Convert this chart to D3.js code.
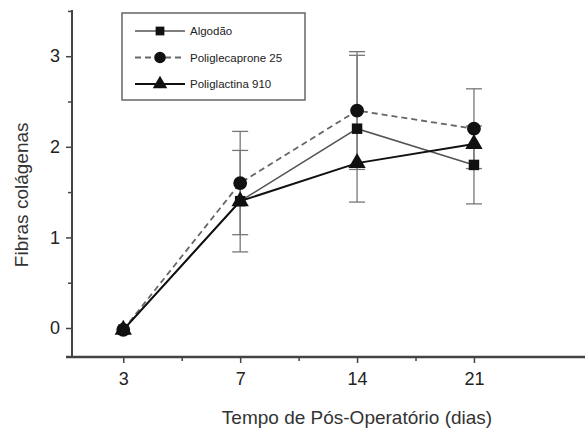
<!DOCTYPE html>
<html>
<head>
<meta charset="utf-8">
<script src="https://cdn.jsdelivr.net/npm/d3@7"></script>
<style>
  body { margin: 0; background: #fff; }
  svg { display: block; font-family: "Liberation Sans", Arial, sans-serif; }
</style>
</head>
<body>
<svg id="chart" width="585" height="432"></svg>
<script>
// x categories (days after surgery)
const days = ["3", "7", "14", "21"];
const seriesNames = ["Algodão", "Poliglecaprone 25", "Poliglactina 910"];
// mean scores per series, same order as days
const algodao = [-0.02, 1.40, 2.20, 1.80];
const poliglecaprone = [-0.02, 1.60, 2.40, 2.20];
const poliglactina = [-0.02, 1.40, 1.82, 2.03];
// error bar half-widths (null = none drawn)
const algodaoErr = [null, 0.56, 0.81, 0.43];
const poliglecaproneErr = [null, 0.57, 0.65, 0.44];
const yTicks = [0, 1, 2, 3];

const svg = d3.select("#chart");

// x drawn on index positions so the minor ticks fall between the days
const x = d3.scaleLinear().domain([-0.49, 3.95]).range([66, 585]);
const y = d3.scaleLinear().domain([-0.32, 3.51]).range([357, 10]);

const axisColor = "#444";

// y axis
const yAxis = svg.append("g")
    .attr("transform", "translate(72,0)")
    .call(d3.axisLeft(y).tickValues(yTicks).tickSize(6).tickPadding(6).tickFormat(d3.format("d")));
yAxis.select(".domain").remove();
yAxis.selectAll("line").attr("stroke", axisColor).attr("stroke-width", 1.5);
yAxis.selectAll("text").attr("font-size", 18).attr("fill", "#222").attr("font-family", "Liberation Sans, Arial, sans-serif");
svg.append("g")
    .attr("transform", "translate(72,0)")
    .call(d3.axisLeft(y).tickValues([0.5, 1.5, 2.5, 3.5]).tickSize(4).tickFormat(""))
    .call(g => g.select(".domain").remove())
    .selectAll("line").attr("stroke", axisColor).attr("stroke-width", 1.5);
svg.append("line")
    .attr("x1", 72).attr("x2", 72).attr("y1", y(3.51)).attr("y2", y(-0.32))
    .attr("stroke", axisColor).attr("stroke-width", 2);

// x axis
const xAxis = svg.append("g")
    .attr("transform", "translate(0,357)")
    .call(d3.axisBottom(x).tickValues([0, 1, 2, 3]).tickSize(6).tickPadding(9)
      .tickFormat(i => days[i]));
xAxis.select(".domain").remove();
xAxis.selectAll("line").attr("stroke", axisColor).attr("stroke-width", 1.5);
xAxis.selectAll("text").attr("font-size", 18).attr("fill", "#222").attr("font-family", "Liberation Sans, Arial, sans-serif");
svg.append("g")
    .attr("transform", "translate(0,357)")
    .call(d3.axisBottom(x).tickValues([0.5, 1.5, 2.5]).tickSize(4).tickFormat(""))
    .call(g => g.select(".domain").remove())
    .selectAll("line").attr("stroke", axisColor).attr("stroke-width", 1.5);
svg.append("line")
    .attr("x1", x(-0.49)).attr("x2", 585).attr("y1", 357).attr("y2", 357)
    .attr("stroke", axisColor).attr("stroke-width", 2.5);

// axis titles
svg.append("text")
    .attr("transform", "translate(28," + y(1.47) + ") rotate(-90)")
    .attr("text-anchor", "middle")
    .attr("font-size", 19).attr("fill", "#333")
    .text("Fibras colágenas");
svg.append("text")
    .attr("x", 357).attr("y", 424)
    .attr("text-anchor", "middle")
    .attr("font-size", 19).attr("fill", "#333")
    .text("Tempo de Pós-Operatório (dias)");

// error bars
function errorBars(vals, errs) {
  const data = vals.map((v, i) => ({i, v, e: errs[i]})).filter(d => d.e !== null);
  const g = svg.append("g").attr("stroke", "#777").attr("stroke-width", 1.3);
  data.forEach(d => {
    g.append("line").attr("x1", x(d.i)).attr("x2", x(d.i))
      .attr("y1", y(d.v - d.e)).attr("y2", y(d.v + d.e));
    [d.v - d.e, d.v + d.e].forEach(c => {
      g.append("line").attr("x1", x(d.i) - 8).attr("x2", x(d.i) + 8)
        .attr("y1", y(c)).attr("y2", y(c));
    });
  });
}
errorBars(algodao, algodaoErr);
errorBars(poliglecaprone, poliglecaproneErr);

const line = d3.line().x((d, i) => x(i)).y(d => y(d));

const series = [
  {name: seriesNames[0], values: algodao, stroke: "#555", width: 1.6, dash: null, symbol: d3.symbolSquare, size: 110},
  {name: seriesNames[1], values: poliglecaprone, stroke: "#666", width: 1.8, dash: "6,4", symbol: d3.symbolCircle, size: 150},
  {name: seriesNames[2], values: poliglactina, stroke: "#111", width: 2, dash: null, symbol: d3.symbolTriangle, size: 130}
];

series.forEach(s => {
  svg.append("path")
    .datum(s.values)
    .attr("d", line)
    .attr("fill", "none")
    .attr("stroke", s.stroke)
    .attr("stroke-width", s.width)
    .attr("stroke-dasharray", s.dash);
});
// markers on top
series.forEach(s => {
  svg.selectAll(null)
    .data(s.values)
    .enter().append("path")
      .attr("transform", (d, i) => "translate(" + x(i) + "," + y(d) + ")")
      .attr("d", d3.symbol().type(s.symbol).size(s.size))
      .attr("fill", "#111");
});

// legend
const legend = svg.append("g");
legend.append("rect")
    .attr("x", 122).attr("y", 13).attr("width", 183).attr("height", 87)
    .attr("fill", "#fff").attr("stroke", "#666").attr("stroke-width", 1.5);
series.forEach((s, i) => {
  const ly = 31 + i * 26.5;
  legend.append("line")
    .attr("x1", 135).attr("x2", 185).attr("y1", ly).attr("y2", ly)
    .attr("stroke", s.stroke).attr("stroke-width", s.width)
    .attr("stroke-dasharray", s.dash);
  legend.append("path")
    .attr("transform", "translate(160," + ly + ")")
    .attr("d", d3.symbol().type(s.symbol).size(s.size * 0.7))
    .attr("fill", "#111");
  legend.append("text")
    .attr("x", 190).attr("y", ly + 4)
    .attr("font-size", 11.5).attr("fill", "#222")
    .text(s.name);
});
</script>
</body>
</html>
